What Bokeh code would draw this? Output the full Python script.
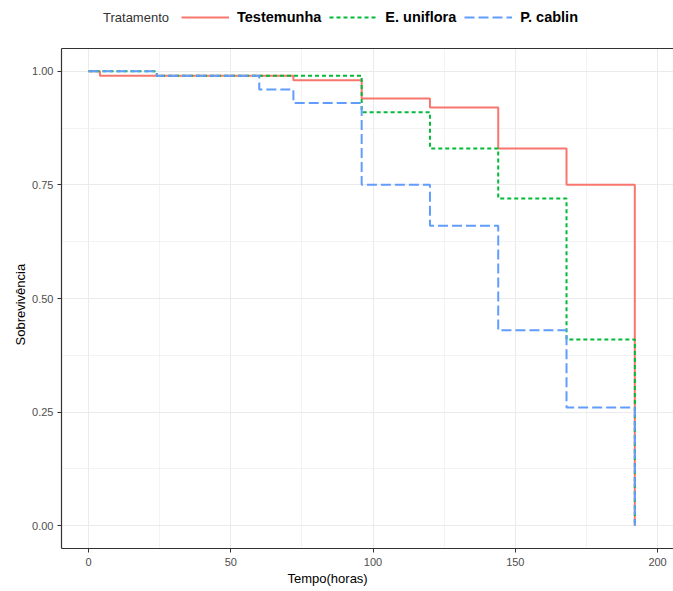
from bokeh.plotting import figure
from bokeh.models import (Legend, LegendItem, LinearAxis, FixedTicker, Range1d, Title)
from bokeh.layouts import column
from bokeh.embed import file_html
from bokeh.resources import INLINE

# ---- data (Kaplan-Meier style survival steps) ----
groups = ["Testemunha", "E. uniflora", "P. cablin"]
times_test = [0, 4, 72, 96, 120, 144, 168, 192]
surv_test = [1.00, 0.99, 0.98, 0.94, 0.92, 0.83, 0.75, 0.00]
times_euni = [0, 24, 96, 120, 144, 168, 192]
surv_euni = [1.00, 0.99, 0.91, 0.83, 0.72, 0.41, 0.00]
times_pcab = [0, 24, 60, 72, 96, 120, 144, 168, 192]
surv_pcab = [1.00, 0.99, 0.96, 0.93, 0.75, 0.66, 0.43, 0.26, 0.00]
x_ticks = [0, 50, 100, 150, 200]
x_minor = [25, 75, 125, 175]
y_ticks = [0.0, 0.25, 0.5, 0.75, 1.0]
y_minor = [0.125, 0.375, 0.625, 0.875]
y_tick_labels = {0.0: "0.00", 0.25: "0.25", 0.5: "0.50", 0.75: "0.75", 1.0: "1.00"}
legend_title = "Tratamento"
x_title = "Tempo(horas)"
y_title = "Sobrevivência"

FONT = "Liberation Sans"
colors = ["#F8766D", "#00BA38", "#619CFF"]
dashes = ["solid", "4 3", "10 4"]
series = [(times_test, surv_test), (times_euni, surv_euni), (times_pcab, surv_pcab)]
W = 673
LEG_H = 35

# ---------------- main plot ----------------
p = figure(width=W, height=591 - LEG_H, output_backend="svg", toolbar_location=None,
           x_range=Range1d(-9.5, 205.6), y_range=Range1d(-0.05, 1.05),
           min_border_left=61, min_border_right=0, min_border_top=48 - LEG_H,
           min_border_bottom=43)
p.outline_line_color = None
p.background_fill_color = "white"
p.border_fill_color = "white"

for g, major, minor in ((p.xgrid[0], x_ticks, x_minor), (p.ygrid[0], y_ticks, y_minor)):
    g.ticker = FixedTicker(ticks=major, minor_ticks=minor)
    g.grid_line_color = "#EBEBEB"
    g.grid_line_width = 1.1
    g.minor_grid_line_color = "#F0F0F0"
    g.minor_grid_line_width = 0.8

for ax in (p.xaxis[0], p.yaxis[0]):
    ax.axis_line_color = "#333333"
    ax.axis_line_width = 1.2
    ax.major_tick_line_color = "#333333"
    ax.major_tick_out = 4
    ax.major_tick_in = 0
    ax.minor_tick_line_color = None
    ax.major_label_text_font = FONT
    ax.major_label_text_font_size = "11px"
    ax.major_label_text_color = "#4D4D4D"
p.xaxis[0].ticker = FixedTicker(ticks=x_ticks, minor_ticks=x_minor)
p.yaxis[0].ticker = FixedTicker(ticks=y_ticks, minor_ticks=y_minor)
p.yaxis[0].major_label_overrides = y_tick_labels
p.xaxis[0].major_label_standoff = 5
p.yaxis[0].major_label_standoff = 4

top = LinearAxis(ticker=FixedTicker(ticks=[]), axis_line_color="#333333",
                 axis_line_width=1.2, major_tick_line_color=None,
                 minor_tick_line_color=None, major_label_text_font_size="0px")
p.add_layout(top, "above")

# axis titles (placed like the reference, which is not centred on the panel)
p.add_layout(Title(text=x_title, align="left", offset=226, standoff=1,
                   text_font=FONT, text_font_size="13px", text_font_style="normal",
                   text_color="black"), "below")
p.add_layout(Title(text=y_title, align="left", offset=203, standoff=4,
                   text_font=FONT, text_font_size="13px", text_font_style="normal",
                   text_color="black"), "left")

for (xs, ys), c, d in zip(series, colors, dashes):
    p.step(xs, ys, mode="after", line_color=c, line_width=2, line_dash=d)

# ---------------- legend strip ----------------
# key renderers carry the same data but the strip's ranges keep them off-frame
lf = figure(width=W, height=LEG_H, output_backend="svg", toolbar_location=None,
            x_range=Range1d(-30, -20), y_range=Range1d(0, 1),
            x_axis_type=None, y_axis_type=None,
            min_border_left=0, min_border_right=0, min_border_top=0, min_border_bottom=0)
lf.outline_line_color = None
lf.grid.visible = False
lf.background_fill_color = "white"
lf.border_fill_color = "white"

keys = [lf.step(xs, ys, mode="after", line_color=c, line_width=2, line_dash=d)
        for (xs, ys), c, d in zip(series, colors, dashes)]
dummy = lf.step(times_test, surv_test, mode="after", line_alpha=0)

leg = Legend(items=[LegendItem(label=g, renderers=[r]) for g, r in zip(groups, keys)],
             orientation="horizontal", location=(120, 10),
             label_text_font=FONT, label_text_font_size="14.5px",
             label_text_font_style="bold", label_text_color="black",
             glyph_width=48, glyph_height=16, label_height=16,
             label_standoff=8, spacing=8, padding=0, margin=0,
             border_line_color=None, background_fill_alpha=0)
lf.add_layout(leg, "center")

leg_t = Legend(items=[LegendItem(label=legend_title, renderers=[dummy])],
               orientation="horizontal", location=(41, 10),
               label_text_font=FONT, label_text_font_size="13px",
               label_text_font_style="normal", label_text_color="#333333",
               glyph_width=1, glyph_height=16, label_height=16,
               label_standoff=0, spacing=0, padding=0, margin=0,
               border_line_color=None, background_fill_alpha=0)
lf.add_layout(leg_t, "center")

layout = column(lf, p, spacing=0)
open("out.html", "w").write(file_html(layout, INLINE))
